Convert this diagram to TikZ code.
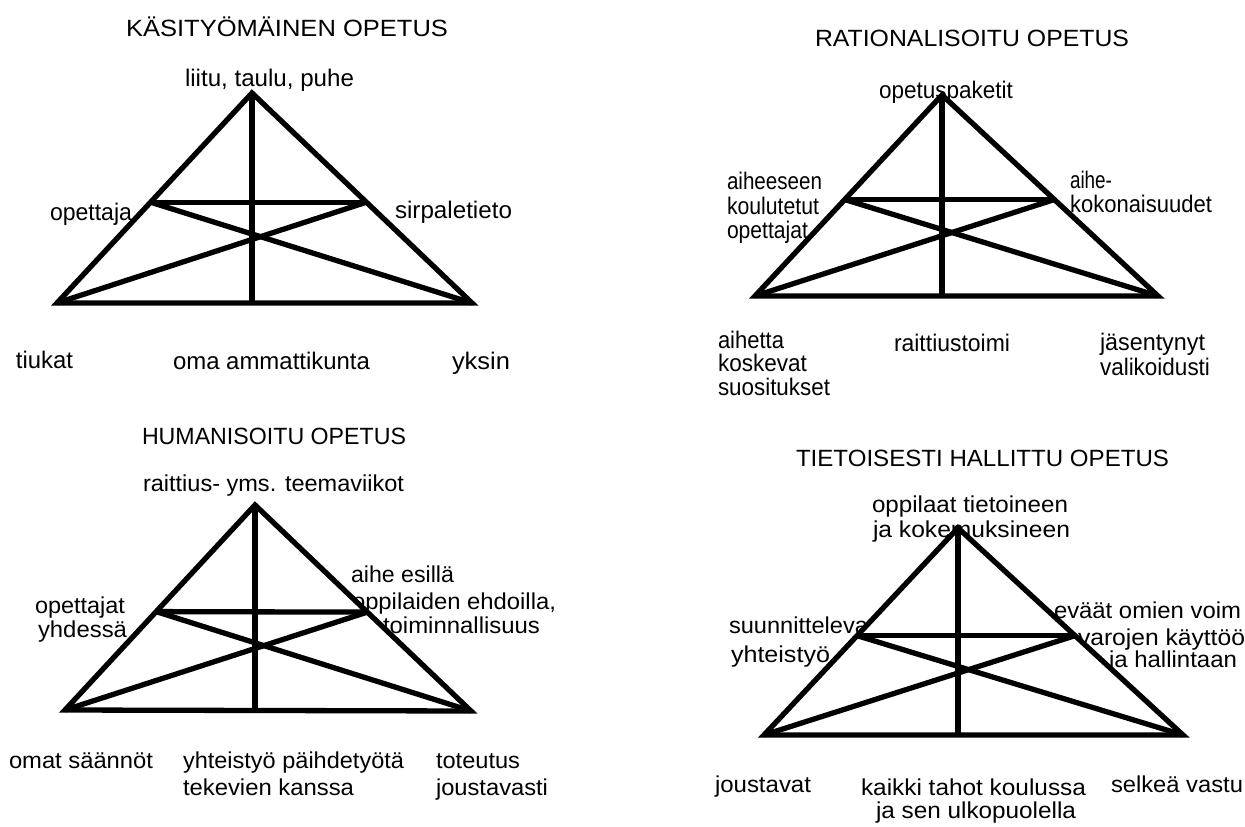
\documentclass[tikz,border=0pt]{standalone}
\usepackage{fontspec}
\setmainfont{Liberation Sans}
\usetikzlibrary{calc}
\newcommand{\tw}[2]{\resizebox{#1pt}{\height}{#2}}
\tikzset{
  lbl/.style={anchor=base west, inner sep=0pt, outer sep=0pt, font=\fontsize{24}{28}\selectfont},
  lblb/.style={lbl, font=\fontsize{23}{27}\selectfont},
  ttl/.style={lbl, font=\fontsize{23.5}{28}\selectfont},
  tri/.style={draw=black, line width=5.3pt, fill=white},
  bar/.style={draw=black, line width=5.3pt},
}
\begin{document}
\begin{tikzpicture}[x=1pt,y=-1pt]
\useasboundingbox (0,0) rectangle (1245,827);
% ---------- labels (drawn first, triangles cover them) ----------
% T1
\node[ttl] (t1title) at (126,36) {\tw{322}{KÄSITYÖMÄINEN OPETUS}};
\node[lbl] (t1top) at (185,86) {\tw{169}{liitu, taulu, puhe}};
\node[lbl] (t1left) at (50,220) {\tw{82}{opettaja}};
\node[lbl] (t1right) at (395,218) {\tw{117}{sirpaletieto}};
\node[lbl] (t1bl) at (16,368) {\tw{57}{tiukat}};
\node[lbl] (t1bm) at (173,369) {\tw{197}{oma ammattikunta}};
\node[lbl] (t1br) at (452,369) {\tw{58}{yksin}};
% T2
\node[ttl] (t2title) at (815,46) {\tw{314}{RATIONALISOITU OPETUS}};
\node[lbl] (t2top) at (879,98) {\tw{134}{opetuspaketit}};
\node[lbl] (t2left1) at (727,189) {\tw{95}{aiheeseen}};
\node[lbl] (t2left2) at (727,214) {\tw{92}{koulutetut}};
\node[lbl] (t2left3) at (727,238) {\tw{81}{opettajat}};
\node[lbl] (t2right1) at (1070,188) {\tw{42}{aihe-}};
\node[lbl] (t2right2) at (1070,212) {\tw{142}{kokonaisuudet}};
\node[lbl] (t2bl1) at (718,348) {\tw{66}{aihetta}};
\node[lbl] (t2bl2) at (718,371) {\tw{89}{koskevat}};
\node[lbl] (t2bl3) at (718,395) {\tw{112}{suositukset}};
\node[lbl] (t2bm) at (894,351) {\tw{116}{raittiustoimi}};
\node[lbl] (t2br1) at (1100,350) {\tw{105}{jäsentynyt}};
\node[lbl] (t2br2) at (1100,375) {\tw{110}{valikoidusti}};
% T3
\node[ttl] (t3title) at (142,444) {\tw{264}{HUMANISOITU OPETUS}};
\node[lblb] (t3top) at (143,491) {\tw{261}{raittius- yms. teemaviikot}};
\node[lblb] (t3left1) at (35,613) {\tw{90}{opettajat}};
\node[lblb] (t3left2) at (38,637) {\tw{89}{yhdessä}};
\node[lblb] (t3right1) at (351,582) {\tw{103}{aihe esillä}};
\node[lblb] (t3right2) at (352,609) {\tw{204}{oppilaiden ehdoilla,}};
\node[lblb] (t3right3) at (383,633) {\tw{157}{toiminnallisuus}};
\node[lblb] (t3bl) at (9,768) {\tw{144}{omat säännöt}};
\node[lblb] (t3bm1) at (183,768) {\tw{221}{yhteistyö päihdetyötä}};
\node[lblb] (t3bm2) at (183,795) {\tw{171}{tekevien kanssa}};
\node[lblb] (t3br1) at (436,768) {\tw{84}{toteutus}};
\node[lblb] (t3br2) at (436,795) {\tw{112}{joustavasti}};
% T4
\node[ttl] (t4title) at (796,466) {\tw{373}{TIETOISESTI HALLITTU OPETUS}};
\node[lblb] (t4top1) at (872,512) {\tw{196}{oppilaat tietoineen}};
\node[lblb] (t4top2) at (873,537) {\tw{197}{ja kokemuksineen}};
\node[lblb] (t4left1) at (729,633) {\tw{139}{suunnitteleva}};
\node[lblb] (t4left2) at (731,662) {\tw{99}{yhteistyö}};
\node[lblb] (t4right1) at (1054,618) {\tw{187}{eväät omien voim}};
\node[lblb] (t4right2) at (1078,645) {\tw{167}{varojen käyttöö}};
\node[lblb] (t4right3) at (1109,667) {\tw{128}{ja hallintaan}};
\node[lblb] (t4bl) at (715,792) {\tw{96}{joustavat}};
\node[lblb] (t4bm1) at (861,795) {\tw{225}{kaikki tahot koulussa}};
\node[lblb] (t4bm2) at (876,818) {\tw{200}{ja sen ulkopuolella}};
\node[lblb] (t4br) at (1111,792) {\tw{132}{selkeä vastu}};
% ---------- triangles ----------
\foreach \n/\ax/\ay/\lx/\ly/\rx/\ry in {
  1/252/93/57/303/472/303,
  2/942/95/755/296/1158/296,
  3/255/505/65/710/471/711,
  4/958/528/764/735/1183/735}{
  \coordinate (a\n) at (\ax,\ay);
  \coordinate (l\n) at (\lx,\ly);
  \coordinate (r\n) at (\rx,\ry);
  \coordinate (p\n) at ($(l\n)!0.48!(a\n)$);
  \coordinate (q\n) at ($(r\n)!0.48!(a\n)$);
  \coordinate (m\n) at (a\n |- l\n);
  \filldraw[tri] (a\n) -- (l\n) -- (r\n) -- cycle;
  \draw[bar] (p\n) -- (q\n);
  \draw[bar] (l\n) -- (q\n);
  \draw[bar] (r\n) -- (p\n);
  \draw[bar] (a\n) -- (m\n);
}
\end{tikzpicture}
\end{document}
